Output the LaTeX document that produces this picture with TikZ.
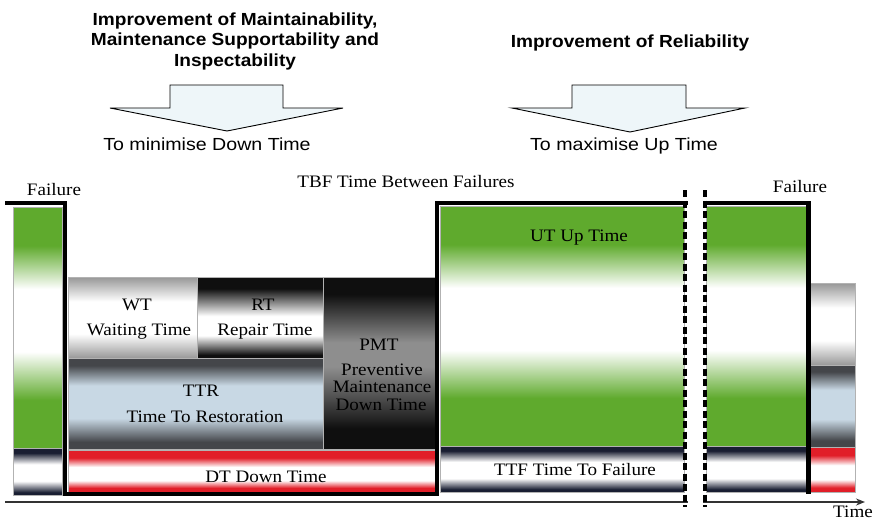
\documentclass[tikz,border=0pt]{standalone}
\usepackage{fontspec}
\setmainfont{Liberation Serif}
\setsansfont{Liberation Sans}
\usetikzlibrary{arrows.meta}
\definecolor{gG}{RGB}{95,170,45}
\definecolor{grA}{RGB}{152,152,152}
\definecolor{blkA}{RGB}{15,15,15}
\definecolor{dkA}{RGB}{68,70,74}
\definecolor{ltB}{RGB}{200,216,228}
\definecolor{pmG}{RGB}{142,142,142}
\definecolor{rdA}{RGB}{225,30,40}
\definecolor{nvA}{RGB}{25,30,50}
\definecolor{arF}{RGB}{238,246,249}
\pgfdeclareverticalshading{shGreen}{100bp}{color(0bp)=(gG); color(35bp)=(gG); color(45bp)=(white); color(58bp)=(white); color(67bp)=(gG); color(100bp)=(gG)}
\pgfdeclareverticalshading{shGray}{100bp}{color(0bp)=(grA); color(25bp)=(grA); color(40bp)=(white); color(60bp)=(white); color(75bp)=(grA); color(100bp)=(grA)}
\pgfdeclareverticalshading{shBlack}{100bp}{color(0bp)=(blkA); color(27bp)=(blkA); color(39bp)=(white); color(51bp)=(white); color(68bp)=(blkA); color(100bp)=(blkA)}
\pgfdeclareverticalshading{shTTR}{100bp}{color(0bp)=(dkA); color(29bp)=(dkA); color(42bp)=(ltB); color(60bp)=(ltB); color(71bp)=(dkA); color(100bp)=(dkA)}
\pgfdeclareverticalshading{shPMT}{100bp}{color(0bp)=(blkA); color(31bp)=(blkA); color(49bp)=(pmG); color(56bp)=(pmG); color(70bp)=(blkA); color(100bp)=(blkA)}
\pgfdeclareverticalshading{shRed}{100bp}{color(0bp)=(rdA); color(30bp)=(rdA); color(39bp)=(white); color(55bp)=(white); color(66bp)=(rdA); color(100bp)=(rdA)}
\pgfdeclareverticalshading{shNavy}{100bp}{color(0bp)=(nvA); color(28bp)=(nvA); color(40bp)=(white); color(58bp)=(white); color(70bp)=(nvA); color(100bp)=(nvA)}
\newcommand\sxr[1]{\scalebox{1.09}[1]{#1}}
\newcommand\sxs[1]{\scalebox{1.12}[1]{#1}}
\begin{document}
\begin{tikzpicture}[x=1pt,y=-1pt,
  box/.style={rectangle, inner sep=0pt, anchor=north west, draw=black!30, line width=0.4pt},
  lab/.style={inner sep=0pt, anchor=base, font=\fontsize{17.5}{20}\selectfont},
  hdr/.style={inner sep=0pt, anchor=base, font=\sffamily\bfseries\fontsize{17.5}{20}\selectfont},
  sub/.style={inner sep=0pt, anchor=base, font=\sffamily\fontsize{17.5}{20}\selectfont},
  outline/.style={line width=4.5pt, line join=miter, draw=black},
  bigarrow/.style={draw=black, line width=0.9pt, fill=arF, line join=miter},
  brk/.style={line width=3.5pt, dash pattern=on 7pt off 3.5pt, draw=black},
]
\useasboundingbox[fill=white] (0,0) rectangle (878,522);

% header texts
\node[hdr] (h1) at (235,25) {\sxr{Improvement of Maintainability,}};
\node[hdr] (h2) at (235,45.5) {\sxr{Maintenance Supportability and}};
\node[hdr] (h3) at (235,66.5) {\sxr{Inspectability}};
\node[hdr] (h4) at (630,47) {\sxr{Improvement of Reliability}};

% big arrows
\draw[bigarrow] (110,108) -- (170,108) -- (170,85) -- (283,85) -- (283,108) -- (343,108) -- (227,131) -- cycle;
\draw[bigarrow] (512,108) -- (572,108) -- (572,85) -- (686,85) -- (686,108) -- (745,108) -- (630,132) -- cycle;
\node[sub] (s1) at (207,150) {\sxs{To minimise Down Time}};
\node[sub] (s2) at (624,150) {\sxs{To maximise Up Time}};

% shaded blocks
\node[box, shading=shGreen, minimum width=49pt, minimum height=241pt] (lg) at (13,207) {};
\node[box, shading=shNavy, minimum width=49pt, minimum height=47pt] (ln) at (13,448) {};
\node[box, shading=shGray, minimum width=129pt, minimum height=81pt] (wt) at (68,277) {};
\node[box, shading=shBlack, minimum width=126pt, minimum height=81pt] (rt) at (197,277) {};
\node[box, shading=shTTR, minimum width=255pt, minimum height=91pt] (ttr) at (68,358) {};
\node[box, shading=shPMT, minimum width=112pt, minimum height=172pt] (pmt) at (323,277) {};
\node[box, shading=shRed, minimum width=367pt, minimum height=42pt] (dt) at (68,450) {};
\node[box, shading=shGreen, minimum width=244pt, minimum height=240pt] (ut) at (440,206) {};
\node[box, shading=shNavy, minimum width=244pt, minimum height=46pt] (ttf) at (440,446) {};
\node[box, shading=shGreen, minimum width=101pt, minimum height=240pt] (ut2) at (706,206) {};
\node[box, shading=shNavy, minimum width=101pt, minimum height=46pt] (ttf2) at (706,446) {};
\node[box, shading=shGray, minimum width=45pt, minimum height=82pt] (rg) at (810,283) {};
\node[box, shading=shTTR, minimum width=45pt, minimum height=82pt] (rtr) at (810,365) {};
\node[box, shading=shRed, minimum width=45pt, minimum height=45pt] (rr) at (810,447) {};

% black outline
\draw[outline] (5,203) -| (65,494) -| (437,203) -- (688,203);
\draw[outline] (703,203) -| (808.5,494);

% time axis
\coordinate (t0) at (5,502);
\coordinate (t1) at (865,502);
\draw[line width=2pt, draw=black!80, -{Stealth[length=9pt,width=7pt]}] (t0) -- (t1);

% break
\fill[white] (687.5,180) rectangle (702.5,512);
\draw[brk] (685,190) -- (685,507);
\draw[brk] (705,190) -- (705,507);

% labels
\node[lab] (fl) at (54,195) {\sxr{Failure}};
\node[lab] (fr) at (800,192) {\sxr{Failure}};
\node[lab] (tbf) at (406,187.5) {\sxr{TBF Time Between Failures}};
\node[lab] (wt1) at (137,310) {\sxr{WT}};
\node[lab] (wt2) at (139,335) {\sxr{Waiting Time}};
\node[lab] (rt1) at (263,310) {\sxr{RT}};
\node[lab] (rt2) at (265,335) {\sxr{Repair Time}};
\node[lab] (ttr1) at (201,396) {\sxr{TTR}};
\node[lab] (ttr2) at (205,422) {\sxr{Time To Restoration}};
\node[lab] (pm1) at (379,350) {\sxr{PMT}};
\node[lab] (pm2) at (382,375) {\sxr{Preventive}};
\node[lab] (pm3) at (382,392.5) {\sxr{Maintenance}};
\node[lab] (pm4) at (381,410) {\sxr{Down Time}};
\node[lab] (dtl) at (266,482) {\sxr{DT Down Time}};
\node[lab] (utl) at (579,241) {\sxr{UT Up Time}};
\node[lab] (ttfl) at (575,475) {\sxr{TTF Time To Failure}};
\node[lab] (tm) at (853,517.5) {\sxr{Time}};
\end{tikzpicture}
\end{document}
